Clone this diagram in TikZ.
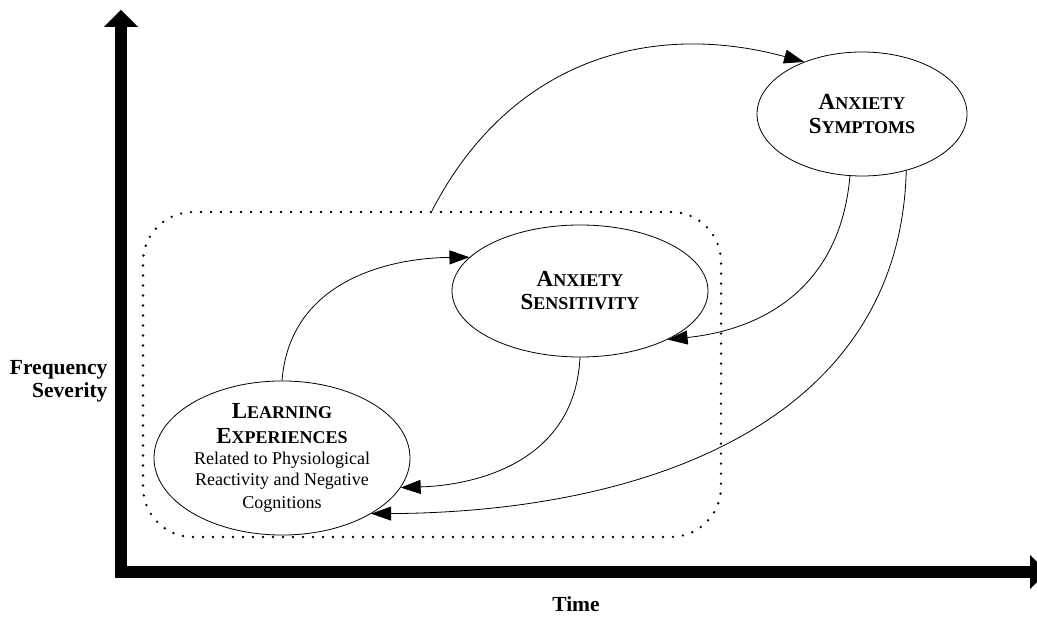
\documentclass[tikz,border=0pt]{standalone}
\usepackage{fontspec}
\setmainfont{Liberation Serif}
\usetikzlibrary{shapes.geometric,arrows.meta}
\newcommand{\scap}[2]{{\fontsize{23}{24}\selectfont #1}{\fontsize{18}{24}\selectfont #2}}
\begin{document}
\begin{tikzpicture}[x=1pt,y=-1pt,
  oval/.style={ellipse,draw,line width=0.8pt,inner sep=0pt,align=center},
  link/.style={line width=0.8pt,-{Triangle[length=20pt,width=14pt]}},
  axislabel/.style={font=\bfseries\fontsize{21.5}{23}\selectfont},
  axisbar/.style={fill=black},
  dotbox/.style={draw,dash pattern=on 0pt off 10pt,line cap=round,line width=2.6pt,rounded corners=50pt}
  ]
\useasboundingbox (0,0) rectangle (1037,617);
\clip (0,0) rectangle (1037,617);
% axes
\fill[axisbar] (115,27) rectangle (127,578);
\fill[axisbar] (104,27) -- (121,10) -- (138,27) -- cycle;
\fill[axisbar] (115,566) rectangle (1030,578);
\fill[axisbar] (1030,555) -- (1047,572) -- (1030,589) -- cycle;
\node[axislabel,align=right,anchor=east] (ylab) at (111,381) {Frequency\\Severity};
\node[axislabel] (xlab) at (576,604) {Time};
% dotted box
\node[dotbox,minimum width=578pt,minimum height=325pt] (box) at (432,374.5) {};
% ellipses
\node[oval,minimum width=210pt,minimum height=124pt,font=\bfseries\fontsize{18}{24}\selectfont] (symp) at (862,114) {\scap{A}{NXIETY}\\\scap{S}{YMPTOMS}};
\node[oval,minimum width=256pt,minimum height=132pt,font=\bfseries\fontsize{18}{23}\selectfont] (sens) at (580,291) {\scap{A}{NXIETY}\\\scap{S}{ENSITIVITY}};
\node[oval,minimum width=256pt,minimum height=130pt,font=\fontsize{18}{21}\selectfont] (learn) at (282,458) {\textbf{\scap{L}{EARNING}}\\[4pt]\textbf{\scap{E}{XPERIENCES}}\\Related to Physiological\\Reactivity and Negative\\[2pt]Cognitions};
% connectors
\draw[link] (box.north) .. controls (510,60) and (650,20) .. (symp.138);
\draw[link] (learn.north) .. controls (290,280) and (390,258) .. (sens.163);
\draw[link] (sens.south) .. controls (575,460) and (480,485) .. (learn.-14);
\draw[link] (symp.259) .. controls (840,290) and (760,330) .. (sens.-29);
\draw[link] (symp.-52) .. controls (900,420) and (650,512) .. (learn.-32);
\end{tikzpicture}
\end{document}
